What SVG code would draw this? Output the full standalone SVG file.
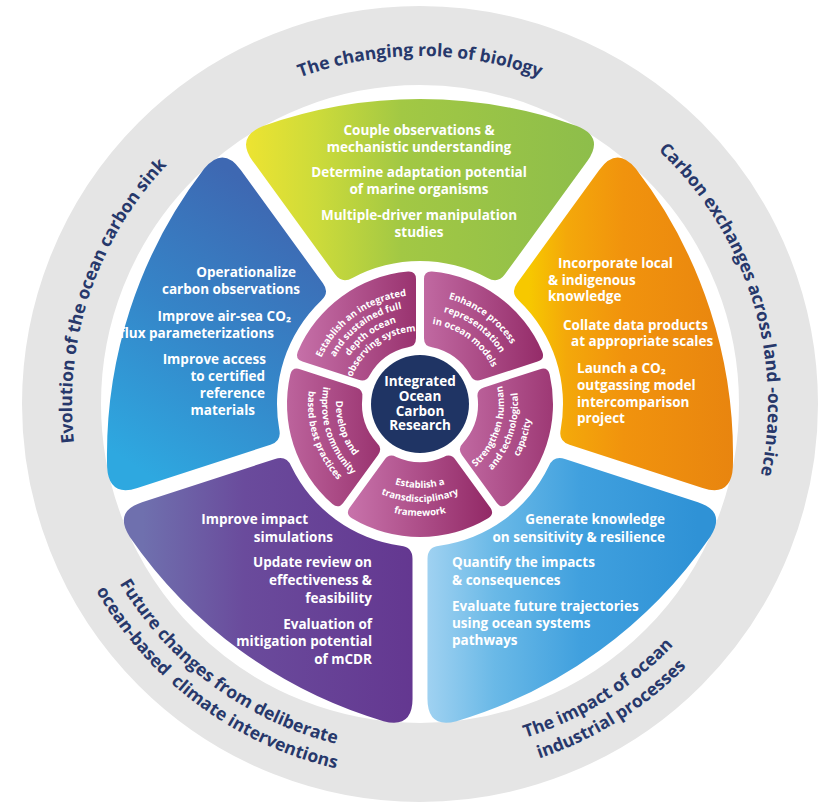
<svg xmlns="http://www.w3.org/2000/svg" width="828" height="806" viewBox="0 0 828 806">
<style>
.pt{font-family:"Open Sans","Noto Sans",sans-serif;font-weight:700;font-size:13.5px;fill:#fff}
.st{font-family:"Open Sans","Noto Sans",sans-serif;font-weight:700;font-size:9.5px;fill:#fff;text-anchor:middle}
.ct{font-family:"Open Sans","Noto Sans",sans-serif;font-weight:700;font-size:13.5px;fill:#fff;text-anchor:middle}
.rl{font-family:"Open Sans","Noto Sans",sans-serif;font-weight:700;font-size:17.5px;fill:#27386b;text-anchor:middle}
.m{text-anchor:middle}.e{text-anchor:end}
</style>
<defs>
<path id="petal" d="M -167.2,-242.8 Q -184.8,-267.1 -156.9,-278.0 A 470 470 0 0 1 156.9,-278.0 Q 184.8,-267.1 167.2,-242.8 L 84.92,-129.65 Q 77.87,-119.94 67.57,-126.03 A 143 143 0 0 0 -67.57,-126.03 Q -77.87,-119.94 -84.92,-129.65 Z"/>
<path id="seg" d="M -70.20,-103.43 Q -74.90,-109.90 -68.14,-114.22 A 133 133 0 0 1 68.14,-114.22 Q 74.90,-109.90 70.20,-103.43 L 35.47,-55.63 Q 30.77,-49.16 23.73,-52.93 A 58 58 0 0 0 -23.73,-52.93 Q -30.77,-49.16 -35.47,-55.63 Z"/>
<path id="t109" d="M -62.52,-89.29 A 109 109 0 0 1 62.52,-89.29"/>
<path id="t97" d="M -55.64,-79.46 A 97 97 0 0 1 55.64,-79.46"/>
<path id="t85" d="M -48.75,-69.63 A 85 85 0 0 1 48.75,-69.63"/>
<path id="t73" d="M -41.87,-59.80 A 73 73 0 0 1 41.87,-59.80"/>
<path id="t95" d="M -54.49,-77.82 A 95 95 0 0 1 54.49,-77.82"/>
<path id="t81" d="M -46.46,-66.35 A 81 81 0 0 1 46.46,-66.35"/>
<path id="b84" d="M -48.18,68.81 A 84 84 0 0 0 48.18,68.81"/>
<path id="b98" d="M -56.21,80.28 A 98 98 0 0 0 56.21,80.28"/>
<path id="b112" d="M -64.24,91.74 A 112 112 0 0 0 64.24,91.74"/>
<path id="arcO" d="M -301.4,-174 A 348 348 0 0 1 301.4,-174"/>
<path id="arcF1" d="M -303.1,175 A 350 350 0 0 0 303.1,175"/>
<path id="arcF2" d="M -323.9,187 A 374 374 0 0 0 323.9,187"/>
<linearGradient id="gGreen" gradientUnits="userSpaceOnUse" x1="-185" y1="-225" x2="185" y2="-225">
<stop offset="0" stop-color="#f2e530"/><stop offset="0.22" stop-color="#cddb3a"/><stop offset="0.45" stop-color="#a2c844"/><stop offset="1" stop-color="#8cbd4b"/></linearGradient>
<linearGradient id="gOrange" gradientUnits="userSpaceOnUse" x1="-32.4" y1="-125.1" x2="32.4" y2="-324.9">
<stop offset="0" stop-color="#f7c800"/><stop offset="0.18" stop-color="#f4a80a"/><stop offset="0.45" stop-color="#f1930d"/><stop offset="1" stop-color="#e8840f"/></linearGradient>
<linearGradient id="gLBlue" gradientUnits="userSpaceOnUse" x1="117.3" y1="-139.8" x2="-117.3" y2="-310.2">
<stop offset="0" stop-color="#b0d9f4"/><stop offset="0.3" stop-color="#6ab9e7"/><stop offset="0.6" stop-color="#40a0de"/><stop offset="1" stop-color="#2f92d6"/></linearGradient>
<linearGradient id="gPurple" gradientUnits="userSpaceOnUse" x1="117.3" y1="-310.2" x2="-117.3" y2="-139.8">
<stop offset="0" stop-color="#6f70ae"/><stop offset="0.35" stop-color="#6a4b9c"/><stop offset="1" stop-color="#63358f"/></linearGradient>
<linearGradient id="gBlue" gradientUnits="userSpaceOnUse" x1="-143.9" y1="-265.1" x2="143.9" y2="-184.9">
<stop offset="0" stop-color="#2ea8e0"/><stop offset="0.5" stop-color="#3585c8"/><stop offset="1" stop-color="#3e68b2"/></linearGradient>
<linearGradient id="p1" gradientUnits="userSpaceOnUse" x1="-56.6" y1="-137.2" x2="56.6" y2="-54.8"><stop offset="0" stop-color="#c772aa"/><stop offset="1" stop-color="#932a67"/></linearGradient>
<linearGradient id="p2" gradientUnits="userSpaceOnUse" x1="-56.6" y1="-54.8" x2="56.6" y2="-137.2"><stop offset="0" stop-color="#c772aa"/><stop offset="1" stop-color="#932a67"/></linearGradient>
<linearGradient id="p3" gradientUnits="userSpaceOnUse" x1="21.6" y1="-29.4" x2="-21.6" y2="-162.6"><stop offset="0" stop-color="#c772aa"/><stop offset="1" stop-color="#932a67"/></linearGradient>
<linearGradient id="p4" gradientUnits="userSpaceOnUse" x1="70" y1="-96" x2="-70" y2="-96"><stop offset="0" stop-color="#c772aa"/><stop offset="1" stop-color="#932a67"/></linearGradient>
<linearGradient id="p5" gradientUnits="userSpaceOnUse" x1="21.6" y1="-162.6" x2="-21.6" y2="-29.4"><stop offset="0" stop-color="#c772aa"/><stop offset="1" stop-color="#932a67"/></linearGradient>
</defs>
<rect width="828" height="806" fill="#fff"/>
<circle cx="420" cy="404" r="358.5" fill="none" stroke="#e5e5e5" stroke-width="79"/>

<g id="ring-biology" transform="translate(420,404)">
<text class="rl"><textPath href="#arcO" startOffset="50%">The changing role of biology</textPath></text>
</g>
<g id="ring-land-ocean-ice" transform="translate(420,404) rotate(72.5)">
<text class="rl"><textPath href="#arcO" startOffset="50%">Carbon exchanges across land -ocean-ice</textPath></text>
</g>
<g id="ring-carbon-sink" transform="translate(420,404) rotate(-71.5)">
<text class="rl"><textPath href="#arcO" startOffset="50%">Evolution of the ocean carbon sink</textPath></text>
</g>
<g id="ring-industrial" transform="translate(420,404) rotate(-32)">
<text class="rl"><textPath href="#arcF1" startOffset="50%">The impact of ocean</textPath></text>
<text class="rl"><textPath href="#arcF2" startOffset="50%">industrial processes</textPath></text>
</g>
<g id="ring-mcdr" transform="translate(420,404) rotate(36.5)">
<text class="rl"><textPath href="#arcF1" startOffset="50%">Future changes from deliberate</textPath></text>
<text class="rl" style="white-space:pre"><textPath href="#arcF2" startOffset="50%">ocean-based  climate interventions</textPath></text>
</g>

<g id="petal-biology">
<use href="#petal" transform="translate(420,404)" fill="url(#gGreen)"/>
<text class="pt m" x="419" y="135">Couple observations &amp;</text>
<text class="pt m" x="419" y="152">mechanistic understanding</text>
<text class="pt m" x="419" y="177">Determine adaptation potential</text>
<text class="pt m" x="419" y="194">of marine organisms</text>
<text class="pt m" x="419" y="220">Multiple-driver manipulation</text>
<text class="pt m" x="419" y="237">studies</text>
</g>
<g id="petal-land-ocean-ice">
<use href="#petal" transform="translate(420,404) rotate(72)" fill="url(#gOrange)"/>
<text class="pt" x="558" y="268">Incorporate local</text>
<text class="pt" x="548" y="285">&amp; indigenous</text>
<text class="pt" x="548" y="301">knowledge</text>
<text class="pt" x="563" y="330">Collate data products</text>
<text class="pt" x="571" y="346">at appropriate scales</text>
<text class="pt" x="577" y="373">Launch a CO₂</text>
<text class="pt" x="577" y="390">outgassing model</text>
<text class="pt" x="577" y="407">intercomparison</text>
<text class="pt" x="577" y="423">project</text>
</g>
<g id="petal-industrial">
<use href="#petal" transform="translate(420,404) rotate(144)" fill="url(#gLBlue)"/>
<text class="pt e" x="665" y="524">Generate knowledge</text>
<text class="pt e" x="665" y="542">on sensitivity &amp; resilience</text>
<text class="pt" x="452" y="567">Quantify the impacts</text>
<text class="pt" x="452" y="585">&amp; consequences</text>
<text class="pt" x="452" y="611">Evaluate future trajectories</text>
<text class="pt" x="452" y="628">using ocean systems</text>
<text class="pt" x="452" y="645">pathways</text>
</g>
<g id="petal-mcdr">
<use href="#petal" transform="translate(420,404) rotate(216)" fill="url(#gPurple)"/>
<text class="pt e" x="308" y="524">Improve impact</text>
<text class="pt e" x="333" y="542">simulations</text>
<text class="pt e" x="372" y="567">Update review on</text>
<text class="pt e" x="372" y="585">effectiveness &amp;</text>
<text class="pt e" x="372" y="603">feasibility</text>
<text class="pt e" x="372" y="629">Evaluation of</text>
<text class="pt e" x="372" y="646">mitigation potential</text>
<text class="pt e" x="372" y="664">of mCDR</text>
</g>
<g id="petal-carbon-sink">
<use href="#petal" transform="translate(420,404) rotate(288)" fill="url(#gBlue)"/>
<text class="pt e" x="296" y="277">Operationalize</text>
<text class="pt e" x="300" y="294">carbon observations</text>
<text class="pt e" x="291" y="321">Improve air-sea CO₂</text>
<text class="pt e" x="274" y="338">flux parameterizations</text>
<text class="pt e" x="266" y="364">Improve access</text>
<text class="pt e" x="265" y="381">to certified</text>
<text class="pt e" x="265" y="398">reference</text>
<text class="pt e" x="255" y="415">materials</text>
</g>

<g id="seg-observing" transform="translate(420,404) rotate(-36)">
<use href="#seg" fill="url(#p1)"/>
<text class="st"><textPath href="#t109" startOffset="50%">Establish an integrated</textPath></text>
<text class="st"><textPath href="#t97" startOffset="50%">and sustained full</textPath></text>
<text class="st"><textPath href="#t85" startOffset="50%">depth ocean</textPath></text>
<text class="st"><textPath href="#t73" startOffset="50%">observing system</textPath></text>
</g>
<g id="seg-models" transform="translate(420,404) rotate(36)">
<use href="#seg" fill="url(#p2)"/>
<text class="st"><textPath href="#t109" startOffset="50%">Enhance process</textPath></text>
<text class="st"><textPath href="#t95" startOffset="50%">representation</textPath></text>
<text class="st"><textPath href="#t81" startOffset="50%">in ocean models</textPath></text>
</g>
<g id="seg-capacity" transform="translate(420,404) rotate(108)">
<use href="#seg" fill="url(#p3)"/>
<g transform="rotate(180)">
<text class="st"><textPath href="#b84" startOffset="50%">Strengthen human</textPath></text>
<text class="st"><textPath href="#b98" startOffset="50%">and technological</textPath></text>
<text class="st"><textPath href="#b112" startOffset="50%">capacity</textPath></text>
</g>
</g>
<g id="seg-framework" transform="translate(420,404) rotate(180)">
<use href="#seg" fill="url(#p4)"/>
<g transform="rotate(180)">
<text class="st"><textPath href="#b84" startOffset="50%">Establish a</textPath></text>
<text class="st"><textPath href="#b98" startOffset="50%">transdisciplinary</textPath></text>
<text class="st"><textPath href="#b112" startOffset="50%">framework</textPath></text>
</g>
</g>
<g id="seg-practices" transform="translate(420,404) rotate(252)">
<use href="#seg" fill="url(#p5)"/>
<g transform="rotate(180)">
<text class="st"><textPath href="#b84" startOffset="50%">Develop and</textPath></text>
<text class="st"><textPath href="#b98" startOffset="50%">improve community</textPath></text>
<text class="st"><textPath href="#b112" startOffset="50%">based best practices</textPath></text>
</g>
</g>

<g id="center">
<circle cx="420" cy="404" r="49" fill="#1f3464"/>
<text class="ct" x="420" y="386">Integrated</text>
<text class="ct" x="420" y="401">Ocean</text>
<text class="ct" x="420" y="415.5">Carbon</text>
<text class="ct" x="420" y="430">Research</text>
</g>
<g id="connectors"/>
</svg>
